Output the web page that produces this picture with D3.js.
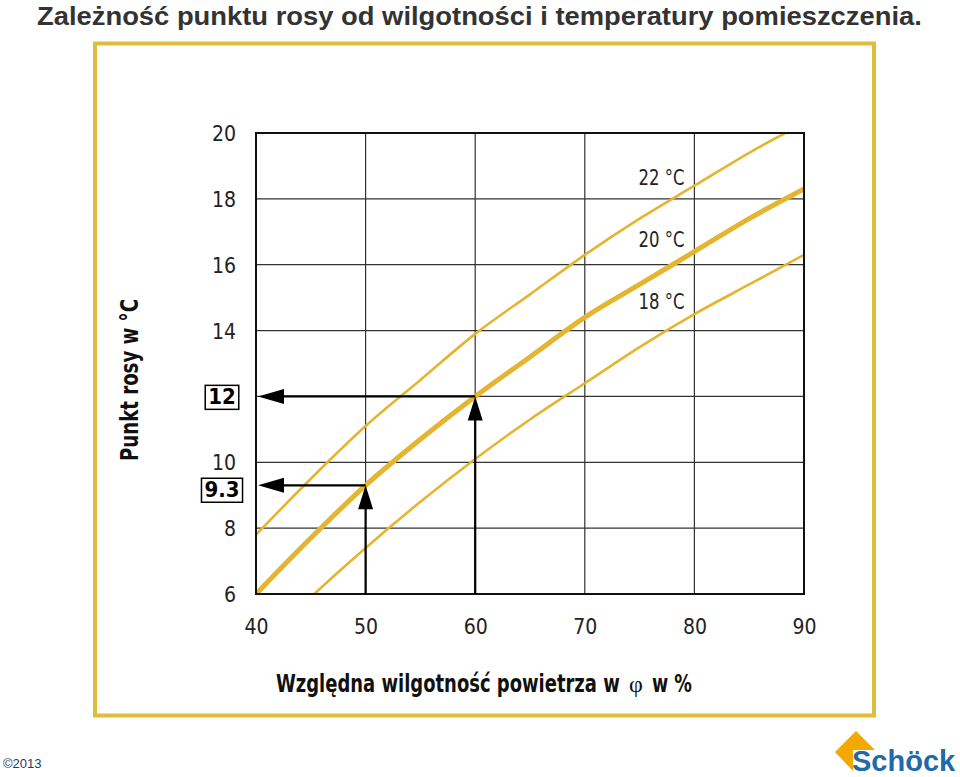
<!DOCTYPE html>
<html>
<head>
<meta charset="utf-8">
<script src="https://cdn.jsdelivr.net/npm/d3@7"></script>
<style>
  html, body { margin: 0; padding: 0; background: #fff; }
  svg { display: block; }
</style>
</head>
<body>
<svg id="chart" width="960" height="777"></svg>
<script>
// ---- data ----
const humidity = [40, 45, 50, 55, 60, 65, 70, 75, 80, 85, 90];
const dew18 = [4.2, 5.9, 7.4, 8.8, 10.1, 11.3, 12.4, 13.5, 14.5, 15.4, 16.3];
const dew20 = [6.0, 7.7, 9.3, 10.7, 12.0, 13.2, 14.4, 15.4, 16.4, 17.4, 18.3];
const dew22 = [7.8, 9.5, 11.1, 12.5, 13.9, 15.1, 16.3, 17.4, 18.4, 19.4, 20.3];
const seriesNames = ["18 °C", "20 °C", "22 °C"];
const xTicks = [40, 50, 60, 70, 80, 90];
const yTicks = [6, 8, 10, 12, 14, 16, 18, 20];
const markers = [ { rh: 50, dew: 9.3, label: "9.3" }, { rh: 60, dew: 12, label: "12" } ];
const labelPos = [ { rh: 77.0, dew: 14.65 }, { rh: 77.0, dew: 16.55 }, { rh: 77.0, dew: 18.42 } ];

const titleText = "Zależność punktu rosy od wilgotności i temperatury pomieszczenia.";
const xLabelParts = ["Względna wilgotność powietrza w", "φ", "w %"];
const yLabel = "Punkt rosy w °C";

const svg = d3.select("#chart");
const narrow = "'Liberation Sans Narrow', 'DejaVu Sans Condensed', 'Roboto', sans-serif";
const gold = "#e5b52f";

// place a text at (px,py) scaled horizontally so its width equals w (rotation optional)
function fitText(parent, str, px, py, w, attrs, rot) {
  const g = parent.append("g");
  const t = g.append("text").text(str);
  Object.entries(attrs).forEach(([k, v]) => t.attr(k, v));
  const nat = t.node().getComputedTextLength();
  const s = w / nat;
  g.attr("transform", `translate(${px},${py})` + (rot ? ` rotate(${rot})` : "") + ` scale(${s},1)`);
  return t;
}

// Title
fitText(svg, titleText, 37, 25, 885, {
  "font-family": "'Liberation Sans', Arial, sans-serif",
  "font-weight": "bold", "font-size": 26, "fill": "#333"
});

// Frame
svg.append("rect")
  .attr("x", 95).attr("y", 43.5).attr("width", 779).attr("height", 672)
  .attr("fill", "none").attr("stroke", "#dfbd3c").attr("stroke-width", 4);

// Scales
const x = d3.scaleLinear().domain([40, 90]).range([256, 804]);
const y = d3.scaleLinear().domain([6, 20]).range([594, 133]);

// Gridlines
const grid = svg.append("g");
grid.selectAll("line.v").data(xTicks).join("line")
  .attr("x1", d => x(d)).attr("x2", d => x(d))
  .attr("y1", y(20)).attr("y2", y(6))
  .attr("stroke", "#333").attr("stroke-width", 1.2);
grid.selectAll("line.h").data(yTicks).join("line")
  .attr("y1", d => y(d)).attr("y2", d => y(d))
  .attr("x1", x(40)).attr("x2", x(90))
  .attr("stroke", "#333").attr("stroke-width", 1.2);

// Clip
svg.append("clipPath").attr("id", "plotclip")
  .append("rect").attr("x", x(40)).attr("y", y(20))
  .attr("width", x(90) - x(40)).attr("height", y(6) - y(20));

// Curves
const line = d3.line().x(d => x(d[0])).y(d => y(d[1])).curve(d3.curveMonotoneX);
const allSeries = [dew18, dew20, dew22];
const widths = [2.6, 5, 2.6];
const curves = svg.append("g").attr("clip-path", "url(#plotclip)");
allSeries.forEach((s, i) => {
  curves.append("path")
    .datum(humidity.map((h, j) => [h, s[j]]))
    .attr("d", line).attr("fill", "none")
    .attr("stroke", gold).attr("stroke-width", widths[i]);
});

// Curve labels
const cl = svg.append("g");
seriesNames.forEach((d, i) => {
  fitText(cl, d, x(labelPos[i].rh), y(labelPos[i].dew), 46, {
    "text-anchor": "middle", "font-family": narrow, "font-size": 21, "fill": "#222"
  });
});

// Plot border
svg.append("rect")
  .attr("x", x(40)).attr("y", y(20)).attr("width", x(90) - x(40)).attr("height", y(6) - y(20))
  .attr("fill", "none").attr("stroke", "#111").attr("stroke-width", 2);

// Axes (tick labels only)
const xAxis = svg.append("g").attr("transform", `translate(0,${y(6)})`)
  .call(d3.axisBottom(x).tickValues(xTicks).tickSize(0).tickPadding(25));
xAxis.select(".domain").remove();
xAxis.selectAll("text").attr("font-family", narrow).attr("font-size", 21).attr("fill", "#222");

const yAxis = svg.append("g").attr("transform", `translate(${x(40)},0)`)
  .call(d3.axisLeft(y).tickValues(yTicks.filter(t => t !== 12)).tickSize(0).tickPadding(20));
yAxis.select(".domain").remove();
yAxis.selectAll("text").attr("font-family", narrow).attr("font-size", 21).attr("fill", "#222")
  .attr("dy", "0.36em");

// Arrows
const arrows = svg.append("g");
markers.forEach(m => {
  const px = x(m.rh), py = y(m.dew);
  arrows.append("line").attr("x1", px).attr("x2", px).attr("y1", y(6)).attr("y2", py + 10)
    .attr("stroke", "#000").attr("stroke-width", 2.2);
  arrows.append("line").attr("x1", px).attr("x2", x(40) + 12).attr("y1", py).attr("y2", py)
    .attr("stroke", "#000").attr("stroke-width", 2.2);
  arrows.append("path")
    .attr("d", `M${px},${py} L${px - 7.5},${py + 24} L${px + 7.5},${py + 24} Z`).attr("fill", "#000");
  const lx = x(40) + 2;
  arrows.append("path")
    .attr("d", `M${lx},${py} L${lx + 26},${py - 7.5} L${lx + 26},${py + 7.5} Z`).attr("fill", "#000");
  const g = svg.append("g");
  const t = g.append("text").attr("x", 222).attr("y", py + (m.label === "12" ? 0 : 4))
    .attr("text-anchor", "middle").attr("dy", "0.36em")
    .attr("font-family", narrow).attr("font-weight", "bold").attr("font-size", 22)
    .attr("fill", "#000").text(m.label);
  const bb = t.node().getBBox();
  g.insert("rect", "text").attr("x", bb.x - 3).attr("y", bb.y + 1).attr("width", bb.width + 6).attr("height", bb.height - 1)
    .attr("fill", "#fff").attr("stroke", "#000").attr("stroke-width", 1.5);
});

// Axis titles
const xl = svg.append("g");
const xlAttrs = { "font-family": narrow, "font-weight": "bold", "font-size": 25, "fill": "#111" };
fitText(xl, xLabelParts[0], 276, 692, 344, xlAttrs);
xl.append("text").attr("x", 636).attr("y", 692).attr("text-anchor", "middle")
  .attr("font-family", "'Liberation Serif', serif").attr("font-size", 24).attr("fill", "#111")
  .text(xLabelParts[1]);
fitText(xl, xLabelParts[2], 652, 692, 40, xlAttrs);

fitText(svg, yLabel, 138, 380, 162, {
  "text-anchor": "middle", "font-family": narrow, "font-weight": "bold", "font-size": 25, "fill": "#111"
}, -90);

// Copyright
svg.append("text").attr("x", 3).attr("y", 768)
  .attr("font-family", "'Liberation Sans', Arial, sans-serif").attr("font-size", 13)
  .attr("fill", "#1d3b5c").text("©2013");

// Logo
svg.append("path")
  .attr("d", "M856,731 L875,750 L853,750 L853,771 L835,752 Z")
  .attr("fill", "#f4a900");
svg.append("text").attr("x", 852).attr("y", 771)
  .attr("font-family", "'Liberation Sans', Arial, sans-serif").attr("font-weight", "bold")
  .attr("font-size", 29).attr("fill", "#1f6aa8").text("Schöck");
</script>
</body>
</html>
